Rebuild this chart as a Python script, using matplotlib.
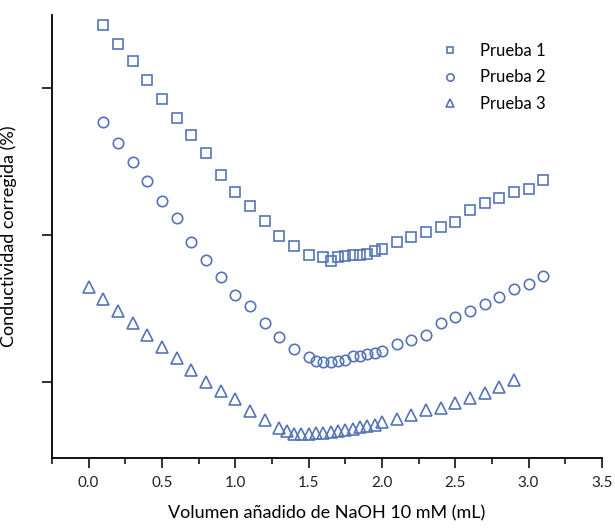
import matplotlib.pyplot as plt
import numpy as np

plt.rcParams['font.family'] = ['Lato', 'DejaVu Sans']

# Prueba 1 (cuadrados)
x1 = [0.1, 0.2, 0.3, 0.4, 0.5, 0.6, 0.7, 0.8, 0.9, 1.0, 1.1, 1.2, 1.3, 1.4, 1.5,
      1.6, 1.65, 1.7, 1.75, 1.8, 1.85, 1.9, 1.95, 2.0,
      2.1, 2.2, 2.3, 2.4, 2.5, 2.6, 2.7, 2.8, 2.9, 3.0, 3.1]
y1 = [3.429, 3.297, 3.182, 3.052, 2.923, 2.798, 2.678, 2.558, 2.408, 2.295,
      2.194, 2.095, 1.993, 1.922, 1.861,
      1.850, 1.823, 1.850, 1.859, 1.864, 1.866, 1.873, 1.891, 1.905,
      1.954, 1.988, 2.022, 2.052, 2.090, 2.170, 2.216, 2.252, 2.293, 2.315, 2.374]

# Prueba 2 (circulos)
x2 = [0.1, 0.2, 0.3, 0.4, 0.5, 0.6, 0.7, 0.8, 0.9, 1.0, 1.1, 1.2, 1.3, 1.4,
      1.5, 1.55, 1.6, 1.65, 1.7, 1.75, 1.8, 1.85, 1.9, 1.95, 2.0,
      2.1, 2.2, 2.3, 2.4, 2.5, 2.6, 2.7, 2.8, 2.9, 3.0, 3.1]
y2 = [2.767, 2.624, 2.495, 2.365, 2.233, 2.114, 1.952, 1.833, 1.712, 1.592,
      1.519, 1.399, 1.308, 1.227,
      1.173, 1.146, 1.139, 1.136, 1.143, 1.150, 1.177, 1.179, 1.188, 1.199, 1.213,
      1.256, 1.286, 1.322, 1.403, 1.444, 1.483, 1.531, 1.580, 1.633, 1.665, 1.723]

# Prueba 3 (triangulos)
x3 = [0.0, 0.1, 0.2, 0.3, 0.4, 0.5, 0.6, 0.7, 0.8, 0.9, 1.0, 1.1, 1.2, 1.3,
      1.35, 1.4, 1.45, 1.5, 1.55, 1.6, 1.65, 1.7, 1.75, 1.8, 1.85, 1.9, 1.95, 2.0,
      2.1, 2.2, 2.3, 2.4, 2.5, 2.6, 2.7, 2.8, 2.9]
y3 = [1.644, 1.562, 1.483, 1.403, 1.317, 1.240, 1.161, 1.082, 1.002, 0.939,
      0.882, 0.805, 0.741, 0.689,
      0.668, 0.646, 0.648, 0.648, 0.653, 0.653, 0.660, 0.665, 0.671, 0.683,
      0.694, 0.699, 0.710, 0.728,
      0.747, 0.778, 0.808, 0.826, 0.860, 0.891, 0.925, 0.966, 1.012]

labels = ['Prueba 1', 'Prueba 2', 'Prueba 3']

col = '#5574b8'

fig = plt.figure(figsize=(6.15, 5.29), dpi=100)
ax = fig.add_axes([0.0846, 0.134, 0.894, 0.838])

ax.plot(x1, y1, ls='none', marker='s', ms=7, mfc='none', mec=col, mew=1.2, label=labels[0])
ax.plot(x2, y2, ls='none', marker='o', ms=7.5, mfc='none', mec=col, mew=1.2, label=labels[1])
ax.plot(x3, y3, ls='none', marker='^', ms=8.5, mfc='none', mec=col, mew=1.2, label=labels[2])

ax.set_xlim(-0.25, 3.5)
ax.set_ylim(0.483, 3.497)
ax.set_xticks(np.arange(0, 3.51, 0.5))
ax.set_xticks(np.arange(-0.25, 3.51, 0.25), minor=True)
ax.set_yticks([1, 2, 3])
ax.set_yticklabels([])

for s in ['top', 'right']:
    ax.spines[s].set_visible(False)
for s in ['left', 'bottom']:
    ax.spines[s].set_linewidth(1.3)

ax.tick_params(axis='both', which='major', direction='out', length=7, width=1.3,
               labelsize=11, colors='#222222', pad=6)
ax.tick_params(axis='x', which='minor', direction='out', length=4, width=1.1)
ax.tick_params(axis='y', which='minor', left=False)

ax.set_xlabel('Volumen añadido de NaOH 10 mM (mL)', fontsize=13, labelpad=11)
ax.set_ylabel('Conductividad corregida (%)', fontsize=13, labelpad=12)

ax.legend(loc='upper right', bbox_to_anchor=(0.925, 0.97), frameon=False,
          fontsize=12, handletextpad=0.8, labelspacing=0.62, markerscale=0.7)

fig.savefig('out.png', dpi=100)
